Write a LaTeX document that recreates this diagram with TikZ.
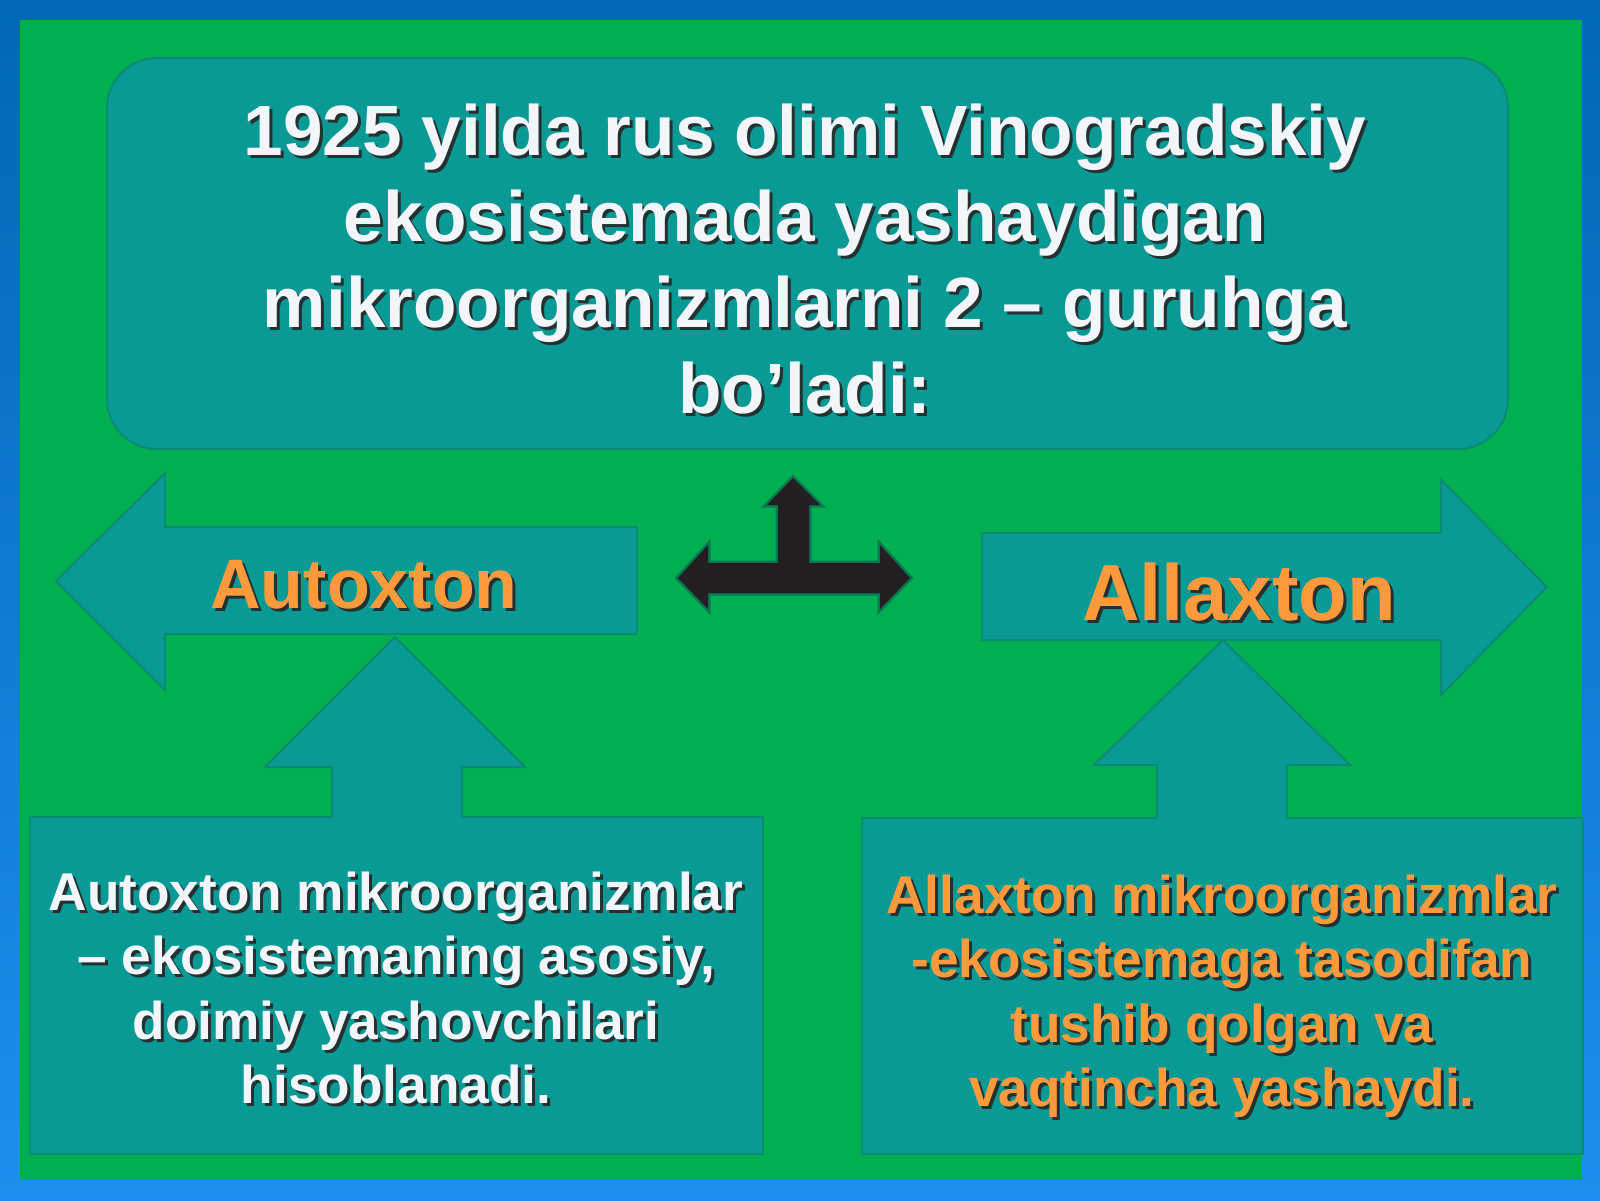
\documentclass[tikz,border=0pt]{standalone}
\usepackage{fontspec}
\setmainfont{Liberation Sans}
\definecolor{bgtop}{HTML}{0068B6}
\definecolor{bgbot}{HTML}{1E8FEE}
\definecolor{slidegreen}{HTML}{00B050}
\definecolor{tealfill}{HTML}{0A9A96}
\definecolor{tealline}{HTML}{0B8A74}
\definecolor{txtwhite}{HTML}{F2F5FA}
\definecolor{txtorange}{HTML}{FF9A3C}
\definecolor{arrowblack}{HTML}{231F20}
\definecolor{glow}{HTML}{0B5E55}
\tikzset{
  tealshape/.style={fill=tealfill, draw=tealline, line width=1pt, line join=miter},
  txt/.style={inner sep=0pt, align=center, font=\bfseries},
  shadowtxt/.style={txt, text=black!85, opacity=0.9},
  titlefont/.style={font=\bfseries\fontsize{35.6}{43}\selectfont},
  bodyfont/.style={font=\bfseries\fontsize{26.6}{32.25}\selectfont},
}
\begin{document}
\begin{tikzpicture}[x=0.5pt,y=-0.5pt]
\useasboundingbox (0,0) rectangle (1600,1200);
% background
\shade[top color=bgtop, bottom color=bgbot] (0,0) rectangle (1600,1200);
\fill[slidegreen] (20,20) rectangle (1582,1180);
% top box
\draw[tealshape, rounded corners=25pt] (107,58) rectangle (1508,449);
% left and right big arrows
\draw[tealshape] (56,581) -- (165,473) -- (165,527) -- (637,527) -- (637,634) -- (165,634) -- (165,690) -- cycle;
\draw[tealshape] (982,533) -- (1441,533) -- (1441,480) -- (1547,587) -- (1441,695) -- (1441,640) -- (982,640) -- cycle;
% bottom boxes
\draw[tealshape] (30,817) rectangle (763,1154);
\draw[tealshape] (862,818) rectangle (1583,1154);
% up arrows
\fill[tealfill] (332,820) -- (332,767) -- (265,767) -- (395,637) -- (525,767) -- (462,767) -- (462,820) -- cycle;
\draw[tealline, line width=1pt] (332,817) -- (332,767) -- (265,767) -- (395,637) -- (525,767) -- (462,767) -- (462,817);
\fill[tealfill] (1157,821) -- (1157,765) -- (1094,765) -- (1223,640) -- (1350,765) -- (1287,765) -- (1287,821) -- cycle;
\draw[tealline, line width=1pt] (1157,818) -- (1157,765) -- (1094,765) -- (1223,640) -- (1350,765) -- (1287,765) -- (1287,818);
% black T arrow
\coordinate (tl) at (678,578);
\coordinate (tr) at (910,578);
\coordinate (tt) at (793,478);
\draw[glow, line width=2.5pt, line join=miter, opacity=0.7, fill=glow]
  (tl) -- (708,545) -- (708,563) -- (778,563) -- (778,505) -- (767,505) -- (tt) -- (820,505) -- (809,505) -- (809,563) -- (880,563) -- (880,545) -- (tr) -- (880,609) -- (880,593) -- (708,593) -- (708,609) -- cycle;
\fill[arrowblack]
  (tl) -- (708,545) -- (708,563) -- (778,563) -- (778,505) -- (767,505) -- (tt) -- (820,505) -- (809,505) -- (809,563) -- (880,563) -- (880,545) -- (tr) -- (880,609) -- (880,593) -- (708,593) -- (708,609) -- cycle;
% title
\node[shadowtxt, titlefont] (titleS) at (808,262) {1925 yilda rus olimi Vinogradskiy\\ekosistemada yashaydigan\\mikroorganizmlarni 2 – guruhga\\bo’ladi:};
\node[txt, titlefont, text=txtwhite] (title) at (805,259) {1925 yilda rus olimi Vinogradskiy\\ekosistemada yashaydigan\\mikroorganizmlarni 2 – guruhga\\bo’ladi:};
% arrow labels
\node[shadowtxt, font=\bfseries\fontsize{35}{40}\selectfont] (autoS) at (367,588) {Autoxton};
\node[txt, font=\bfseries\fontsize{35}{40}\selectfont, text=txtorange] (auto) at (364,585) {Autoxton};
\node[shadowtxt, font=\bfseries\fontsize{39.8}{44}\selectfont] (allaS) at (1242,595) {Allaxton};
\node[txt, font=\bfseries\fontsize{39.8}{44}\selectfont, text=txtorange] (alla) at (1239,592) {Allaxton};
% bottom texts
\node[shadowtxt, bodyfont] (leftS) at (399,991) {Autoxton mikroorganizmlar\\– ekosistemaning asosiy,\\doimiy yashovchilari\\hisoblanadi.};
\node[txt, bodyfont, text=txtwhite] (left) at (396,988) {Autoxton mikroorganizmlar\\– ekosistemaning asosiy,\\doimiy yashovchilari\\hisoblanadi.};
\node[shadowtxt, bodyfont] (rightS) at (1225,999) {Allaxton mikroorganizmlar\\-ekosistemaga tasodifan\\tushib qolgan va\\vaqtincha yashaydi.};
\node[txt, bodyfont, text=txtorange] (right) at (1222,996) {Allaxton mikroorganizmlar\\-ekosistemaga tasodifan\\tushib qolgan va\\vaqtincha yashaydi.};
\end{tikzpicture}
\end{document}
